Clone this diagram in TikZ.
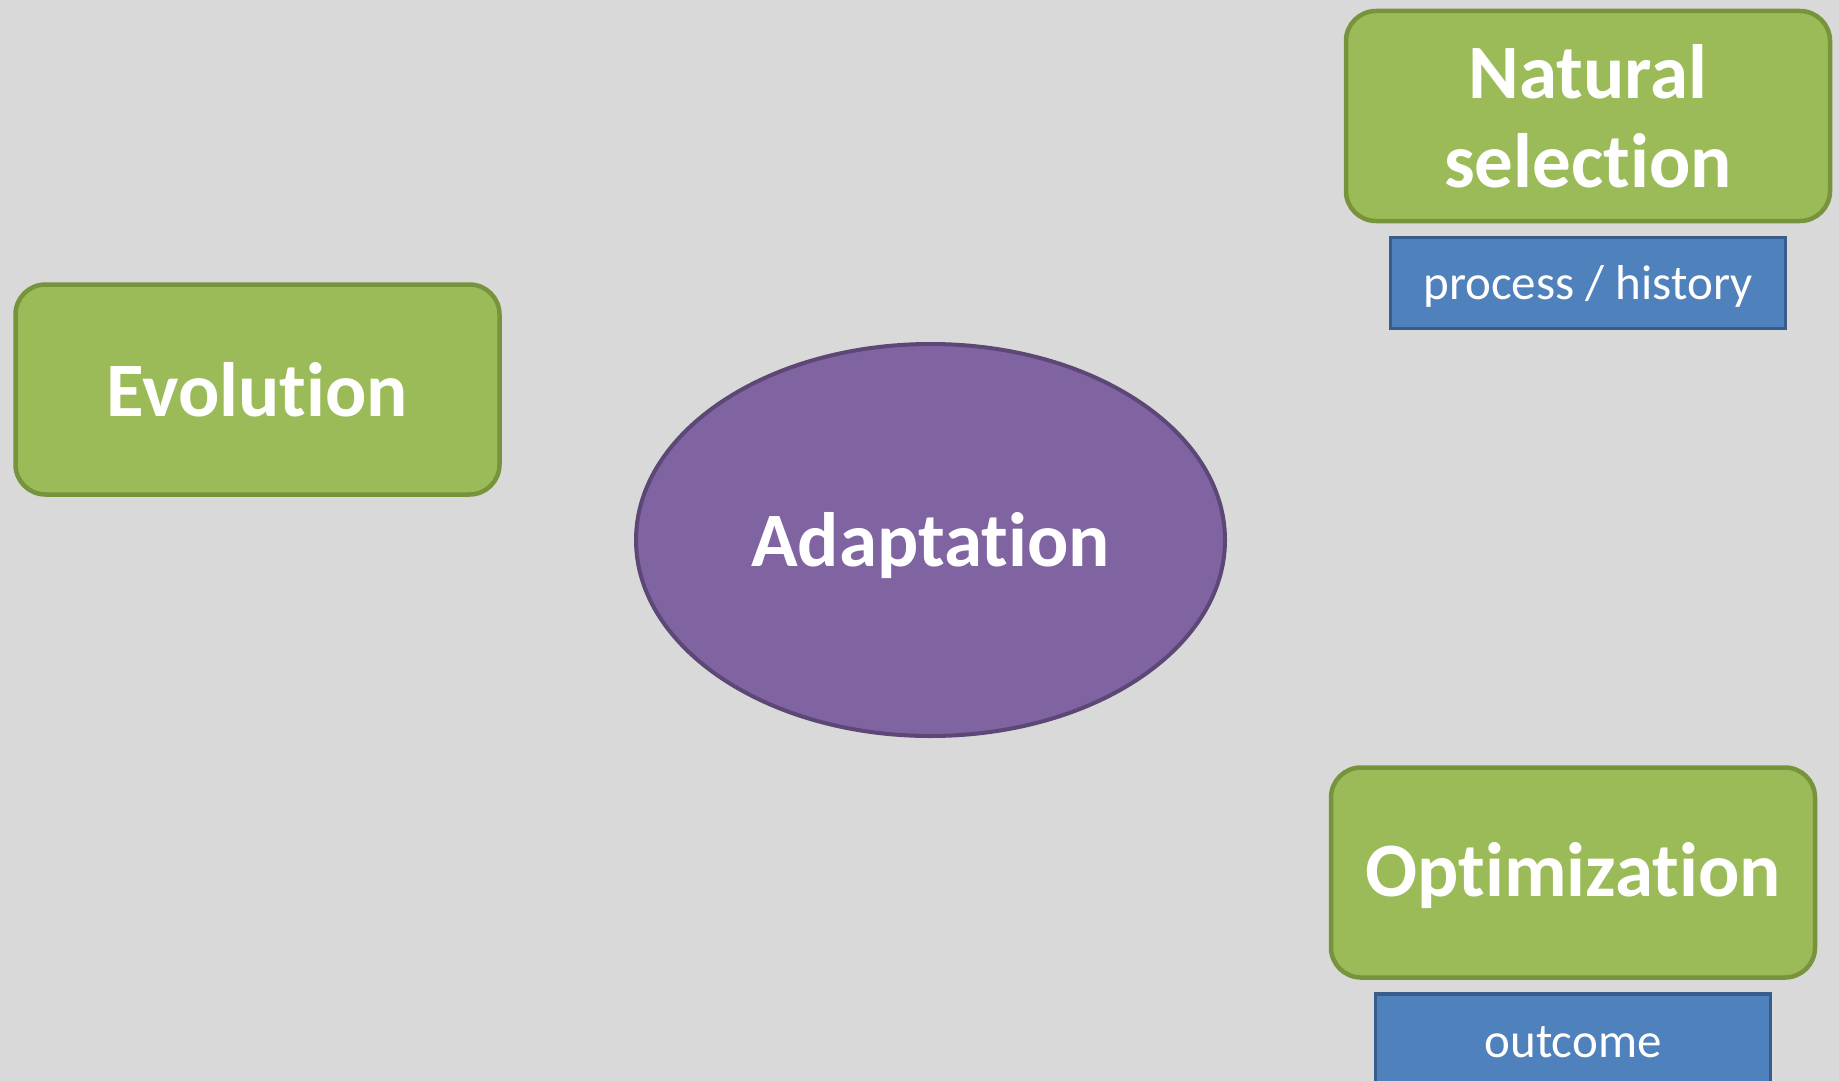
\documentclass[tikz,border=0pt]{standalone}
\usepackage{fontspec}
\setmainfont[Ligatures=NoCommon]{Carlito}
\usetikzlibrary{positioning,shapes}
\definecolor{bggray}{HTML}{D9D9D9}
\definecolor{leafgreen}{HTML}{9BBB59}
\definecolor{leafedge}{HTML}{77933C}
\definecolor{plum}{HTML}{8064A2}
\definecolor{plumedge}{HTML}{5C4776}
\definecolor{steelblue}{HTML}{4F81BD}
\definecolor{steeledge}{HTML}{385D8A}
\tikzset{
    concept/.style = {draw=leafedge, fill=leafgreen, rectangle,
        rounded corners=30pt, line width=4.5pt,
        minimum height=210pt,
        minimum width=484pt,
        text=white, align=center,
        font=\bfseries\fontsize{77}{89}\selectfont},
    centre/.style = {draw=plumedge, fill=plum, ellipse, line width=4pt,
        minimum width=589pt, minimum height=392pt, inner sep=0pt,
        text=white, font=\bfseries\fontsize{77}{92}\selectfont},
    tag/.style = {draw=steeledge, fill=steelblue, rectangle, line width=3.5pt,
        minimum height=91pt,
        minimum width=395pt,
        text=white, font=\fontsize{49}{59}\selectfont},
}

\begin{document}
\begin{tikzpicture}[x=1pt,y=-1pt]
            \fill[bggray] (0,0) rectangle (1839,1081);
            \clip (0,0) rectangle (1839,1081);
            \node[centre] (adapt) at (930.5,540) {\raisebox{-6pt}[\height][\depth]{Adaptation}};
            \node[concept] (evol) at (257.5,389.5) {Evolution};
            \node[concept] (natsel) at (1588,116) {Natural\\selection};
            \node[tag, below=12.5pt of natsel] (process) {\raisebox{-3pt}[\height][\depth]{process / history}};
            \node[concept] (optim) at (1573,872.5) {\raisebox{-3pt}[\height][\depth]{Optimization}};
            \node[tag, below=12.5pt of optim] (outcome) {\raisebox{-3pt}[\height][\depth]{outcome}};
        \end{tikzpicture}
\end{document}
